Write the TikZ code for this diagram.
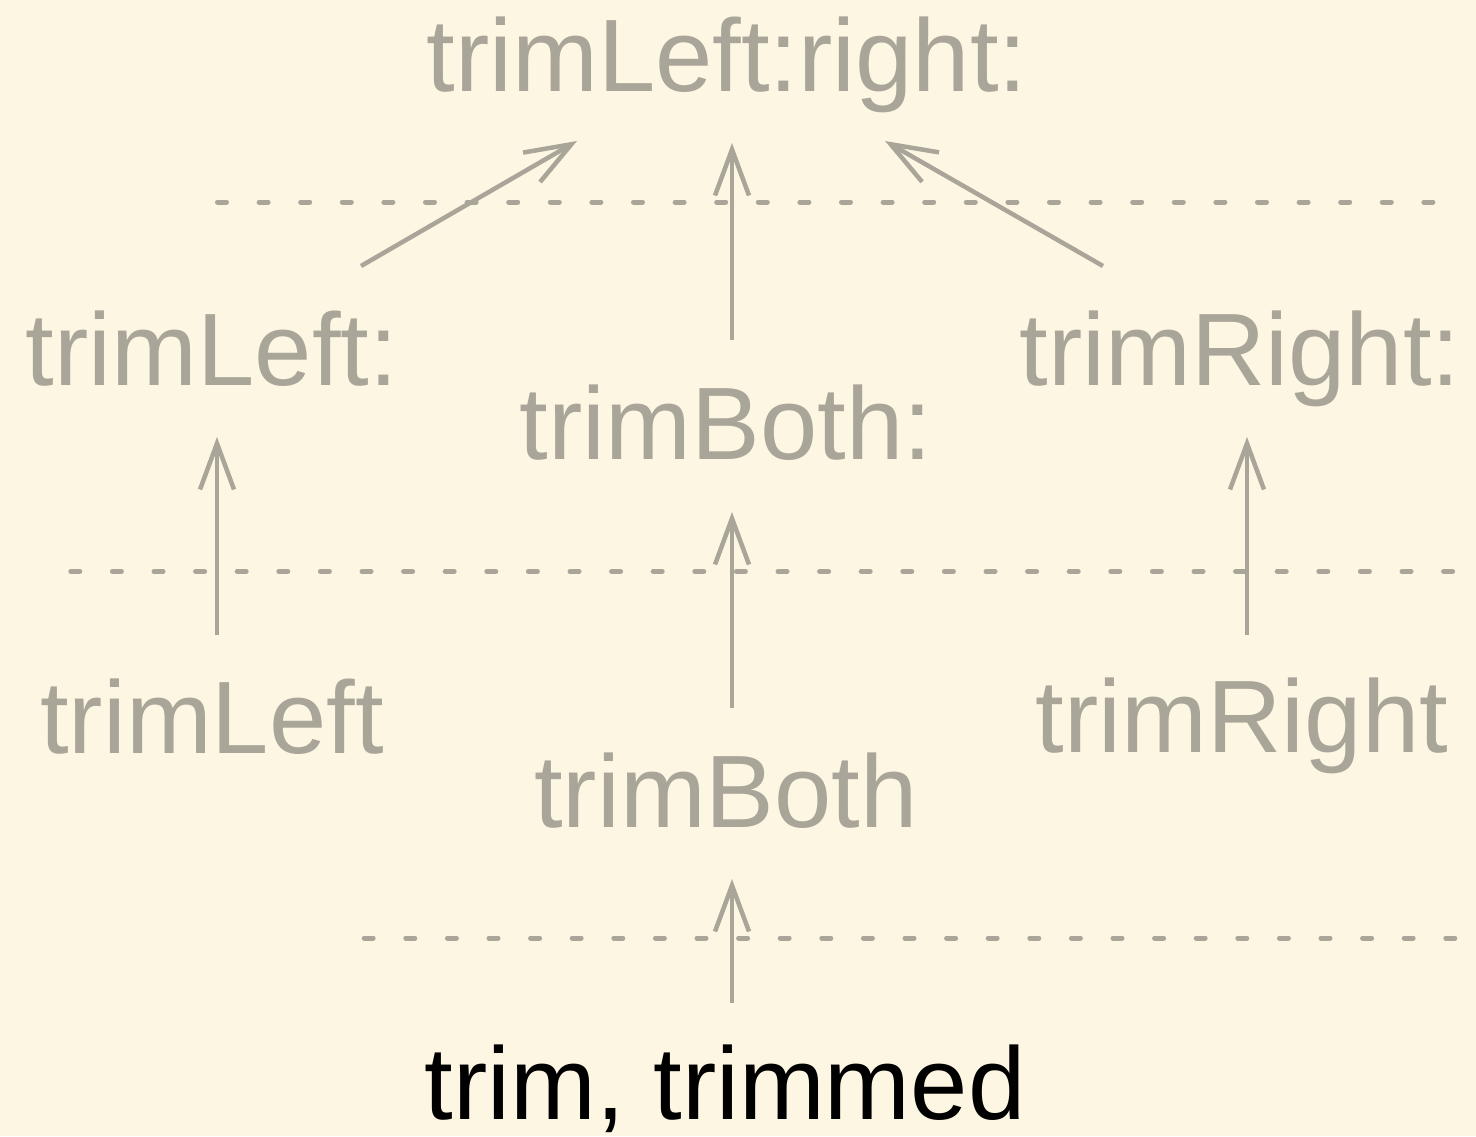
\documentclass[tikz,border=0pt]{standalone}
\usepackage{fontspec}
\setmainfont{Liberation Sans}
\usetikzlibrary{arrows.meta}
\definecolor{bg}{RGB}{253,246,227}
\definecolor{ink}{RGB}{169,165,152}
\tikzset{
  lbl/.style={anchor=base, inner sep=0pt, text=ink, font=\fontsize{103}{108}\selectfont},
  arr/.style={draw=ink, line width=4.5pt, -{Straight Barb[length=46pt,width=34pt,line width=4.5pt]}},
  sep/.style={draw=ink, line width=5pt, line cap=round, dash pattern=on 9pt off 32.6pt}
}
\begin{document}
\begin{tikzpicture}[x=1pt,y=-1pt]
\fill[bg] (0,0) rectangle (1476,1136);
\useasboundingbox (0,0) rectangle (1476,1136);
% separators
\draw[sep] (217.5,202) -- (1463,202);
\draw[sep] (70.8,571.5) -- (1460,571.5);
\draw[sep] (364.2,938) -- (1460,938);
% labels
\node[lbl] (top) at (727,91) {trimLeft:right:};
\node[lbl] (tlc) at (212,385) {trimLeft:};
\node[lbl] (tbc) at (726,459) {trimBoth:};
\node[lbl] (trc) at (1240,385) {trimRight:};
\node[lbl] (tl) at (212,753) {trimLeft};
\node[lbl] (tb) at (726,827) {trimBoth};
\node[lbl] (tr) at (1242,752) {trimRight};
\node[lbl, text=black] (tt) at (725,1119) {trim, trimmed};
% arrows
\draw[arr] ([xshift=5pt,yshift=118pt]tl.base) -- ([xshift=5pt,yshift=-52pt]tlc.base);
\draw[arr] ([xshift=6pt,yshift=119pt]tb.base) -- ([xshift=6pt,yshift=-53pt]tbc.base);
\draw[arr] ([xshift=5pt,yshift=117pt]tr.base) -- ([xshift=7pt,yshift=-52pt]trc.base);
\draw[arr] ([xshift=7pt,yshift=116pt]tt.base) -- ([xshift=6pt,yshift=-52pt]tb.base);
\draw[arr] ([xshift=6pt,yshift=119pt]tbc.base) -- ([xshift=5pt,yshift=-52pt]top.base);
\draw[arr] ([xshift=149pt,yshift=119pt]tlc.base) -- ([xshift=-150pt,yshift=-50pt]top.base);
\draw[arr] ([xshift=-137pt,yshift=119pt]trc.base) -- ([xshift=158pt,yshift=-50pt]top.base);
\end{tikzpicture}
\end{document}
